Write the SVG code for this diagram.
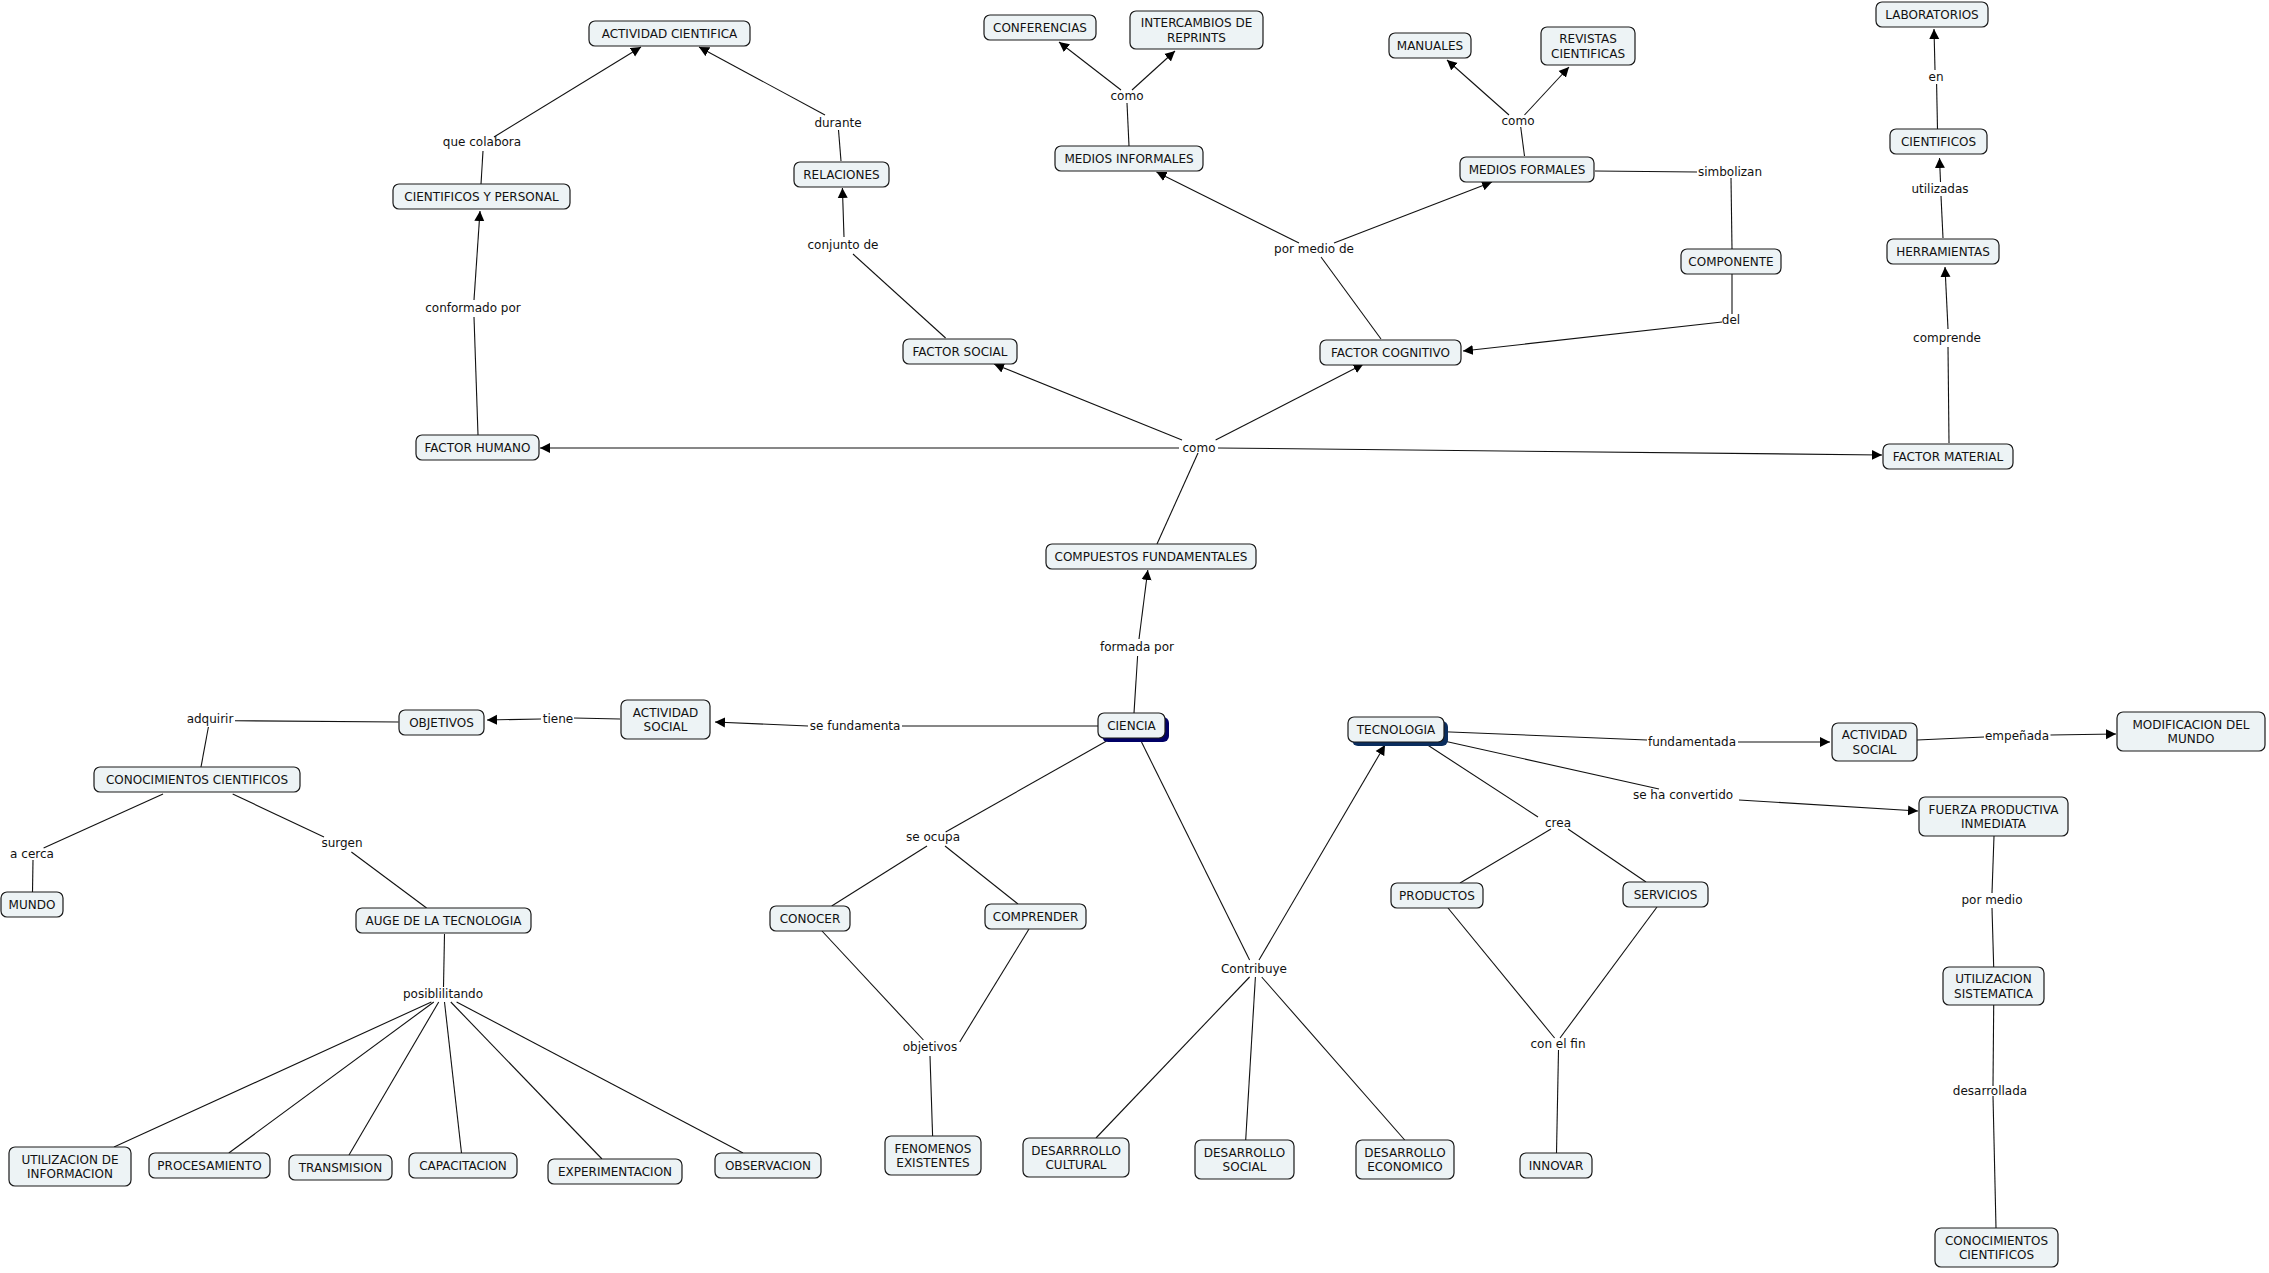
<svg xmlns="http://www.w3.org/2000/svg" width="2269" height="1273" viewBox="0 0 2269 1273">
<style>
.n rect.b{fill:#edf3f5;stroke:#1a1a1a;stroke-width:1.2}
.n text,.lb text{font-family:"DejaVu Sans","Liberation Sans",sans-serif;font-size:12px;fill:#111;text-anchor:middle}
#conn line{stroke:#111;stroke-width:1.1}
#conn line.ar{marker-end:url(#ah)}
</style>
<defs>
<marker id="ah" viewBox="0 0 10 10" refX="10" refY="5" markerWidth="10" markerHeight="11" markerUnits="userSpaceOnUse" orient="auto">
<path d="M0,0 L10,5 L0,10 z" fill="#000"/>
</marker>
</defs>
<rect width="2269" height="1273" fill="#fff"/>
<g id="conn">
<line class="ar" x1="494" y1="137" x2="641" y2="47"/>
<line x1="481" y1="184" x2="483" y2="151"/>
<line x1="478" y1="435" x2="474" y2="317"/>
<line class="ar" x1="474" y1="300" x2="480" y2="211"/>
<line class="ar" x1="825" y1="115" x2="699" y2="47"/>
<line x1="841" y1="161" x2="838.5" y2="130"/>
<line x1="945.6" y1="338" x2="853" y2="254"/>
<line class="ar" x1="844" y1="237" x2="842.4" y2="188"/>
<line x1="1129" y1="146" x2="1127" y2="103"/>
<line class="ar" x1="1121" y1="90" x2="1059" y2="42"/>
<line class="ar" x1="1132" y1="90" x2="1175" y2="51"/>
<line x1="1381" y1="339" x2="1321" y2="257"/>
<line class="ar" x1="1299" y1="243" x2="1156.5" y2="172"/>
<line class="ar" x1="1334" y1="243" x2="1492" y2="182"/>
<line x1="1524.5" y1="156" x2="1520.7" y2="127"/>
<line class="ar" x1="1509" y1="115" x2="1447" y2="60"/>
<line class="ar" x1="1524.5" y1="115" x2="1569" y2="67"/>
<line x1="1595" y1="171" x2="1697" y2="172"/>
<line x1="1731" y1="178" x2="1732" y2="249"/>
<line x1="1732" y1="274" x2="1732" y2="314"/>
<line class="ar" x1="1722" y1="322" x2="1463" y2="351"/>
<line x1="1157" y1="544" x2="1198" y2="453"/>
<line class="ar" x1="1179" y1="448" x2="540" y2="448"/>
<line class="ar" x1="1182" y1="440" x2="994" y2="364"/>
<line class="ar" x1="1215.6" y1="440" x2="1363.5" y2="364"/>
<line class="ar" x1="1218" y1="448" x2="1882" y2="455"/>
<line x1="1949" y1="443" x2="1948" y2="347"/>
<line class="ar" x1="1948" y1="329" x2="1945" y2="267"/>
<line x1="1943" y1="238" x2="1941" y2="196"/>
<line class="ar" x1="1940.5" y1="182" x2="1939.5" y2="158"/>
<line x1="1937.5" y1="129" x2="1936.6" y2="84"/>
<line class="ar" x1="1935" y1="70" x2="1934" y2="29"/>
<line x1="1134" y1="713" x2="1137.6" y2="656"/>
<line class="ar" x1="1139" y1="639" x2="1147.8" y2="570"/>
<line x1="1098" y1="726" x2="902" y2="726"/>
<line class="ar" x1="808" y1="726" x2="715" y2="722"/>
<line x1="620" y1="719" x2="574" y2="718"/>
<line class="ar" x1="541" y1="719" x2="487" y2="720"/>
<line x1="398.5" y1="722" x2="235" y2="720.7"/>
<line x1="208.4" y1="727" x2="201" y2="767"/>
<line x1="163" y1="794" x2="43.6" y2="848"/>
<line x1="33" y1="860" x2="32.5" y2="892"/>
<line x1="232.7" y1="794" x2="324" y2="837"/>
<line x1="351.4" y1="852" x2="426.6" y2="908"/>
<line x1="444.5" y1="934" x2="443.5" y2="987"/>
<line x1="431.4" y1="1002" x2="114" y2="1147"/>
<line x1="433.8" y1="1002" x2="228.8" y2="1153"/>
<line x1="438.7" y1="1002" x2="349" y2="1155"/>
<line x1="444.5" y1="1002" x2="461.5" y2="1153"/>
<line x1="450.8" y1="1002" x2="602" y2="1159"/>
<line x1="456.6" y1="1002" x2="743" y2="1153"/>
<line x1="1106.6" y1="741" x2="945.6" y2="832"/>
<line x1="927" y1="846" x2="831.7" y2="906"/>
<line x1="945" y1="846" x2="1018" y2="904"/>
<line x1="822" y1="931" x2="923.4" y2="1040"/>
<line x1="1029" y1="929" x2="959.7" y2="1042"/>
<line x1="930" y1="1056" x2="932.6" y2="1136"/>
<line x1="1141.5" y1="742" x2="1249.6" y2="960"/>
<line class="ar" x1="1259" y1="960" x2="1385" y2="745"/>
<line x1="1249.6" y1="977" x2="1096" y2="1138"/>
<line x1="1255.4" y1="977" x2="1245.7" y2="1140"/>
<line x1="1261.7" y1="977" x2="1404.7" y2="1140"/>
<line x1="1444" y1="731.7" x2="1647" y2="740"/>
<line class="ar" x1="1738" y1="742" x2="1830" y2="742"/>
<line x1="1444" y1="741" x2="1659" y2="789"/>
<line class="ar" x1="1739" y1="800" x2="1918" y2="811"/>
<line x1="1423" y1="742" x2="1538" y2="817"/>
<line x1="1551" y1="829" x2="1460" y2="883"/>
<line x1="1568" y1="829" x2="1646" y2="882"/>
<line x1="1448" y1="908" x2="1554.6" y2="1038"/>
<line x1="1657" y1="907" x2="1560" y2="1038"/>
<line x1="1558.5" y1="1050" x2="1556.5" y2="1153"/>
<line x1="1917" y1="740" x2="1984" y2="737"/>
<line class="ar" x1="2050.5" y1="735" x2="2116" y2="734"/>
<line x1="1994" y1="836" x2="1992" y2="893"/>
<line x1="1992" y1="908" x2="1993.7" y2="967"/>
<line x1="1993.7" y1="1005" x2="1993" y2="1086"/>
<line x1="1993" y1="1096" x2="1996" y2="1228"/>
</g>
<g id="labels" class="lb">
<text x="482" y="146">que colabora</text>
<text x="473" y="312">conformado por</text>
<text x="838" y="127">durante</text>
<text x="843" y="249">conjunto de</text>
<text x="1127" y="100">como</text>
<text x="1314" y="253">por medio de</text>
<text x="1518" y="125">como</text>
<text x="1730" y="176">simbolizan</text>
<text x="1731" y="324">del</text>
<text x="1199" y="452">como</text>
<text x="1936" y="81">en</text>
<text x="1940" y="193">utilizadas</text>
<text x="1947" y="342">comprende</text>
<text x="1137" y="651">formada por</text>
<text x="855" y="730">se fundamenta</text>
<text x="558" y="723">tiene</text>
<text x="210" y="723">adquirir</text>
<text x="32" y="858">a cerca</text>
<text x="342" y="847">surgen</text>
<text x="443" y="998">posiblilitando</text>
<text x="933" y="841">se ocupa</text>
<text x="930" y="1051">objetivos</text>
<text x="1254" y="973">Contribuye</text>
<text x="1692" y="746">fundamentada</text>
<text x="2017" y="740">empeñada</text>
<text x="1683" y="799">se ha convertido</text>
<text x="1558" y="827">crea</text>
<text x="1558" y="1048">con el fin</text>
<text x="1992" y="904">por medio</text>
<text x="1990" y="1095">desarrollada</text>
</g>
<g id="n-act-cientifica" class="n"><rect class="b" x="589" y="21" width="161" height="25" rx="6"/><text x="669.5" y="37.5">ACTIVIDAD CIENTIFICA</text></g>
<g id="n-cientificos-personal" class="n"><rect class="b" x="393" y="184" width="177" height="25" rx="6"/><text x="481.5" y="200.5">CIENTIFICOS Y PERSONAL</text></g>
<g id="n-factor-humano" class="n"><rect class="b" x="416" y="435" width="123" height="25" rx="6"/><text x="477.5" y="451.5">FACTOR HUMANO</text></g>
<g id="n-conferencias" class="n"><rect class="b" x="984" y="15" width="112" height="25" rx="6"/><text x="1040" y="31.5">CONFERENCIAS</text></g>
<g id="n-intercambios" class="n"><rect class="b" x="1130" y="11" width="133" height="38" rx="6"/><text x="1196.5" y="27">INTERCAMBIOS DE</text><text x="1196.5" y="41.5">REPRINTS</text></g>
<g id="n-manuales" class="n"><rect class="b" x="1389" y="33" width="82" height="25" rx="6"/><text x="1430" y="49.5">MANUALES</text></g>
<g id="n-revistas" class="n"><rect class="b" x="1541" y="27" width="94" height="38" rx="6"/><text x="1588" y="43">REVISTAS</text><text x="1588" y="57.5">CIENTIFICAS</text></g>
<g id="n-relaciones" class="n"><rect class="b" x="794" y="162" width="95" height="25" rx="6"/><text x="841.5" y="178.5">RELACIONES</text></g>
<g id="n-medios-informales" class="n"><rect class="b" x="1055" y="146" width="148" height="25" rx="6"/><text x="1129" y="162.5">MEDIOS INFORMALES</text></g>
<g id="n-medios-formales" class="n"><rect class="b" x="1460" y="157" width="134" height="25" rx="6"/><text x="1527" y="173.5">MEDIOS FORMALES</text></g>
<g id="n-componente" class="n"><rect class="b" x="1681" y="249" width="100" height="25" rx="6"/><text x="1731" y="265.5">COMPONENTE</text></g>
<g id="n-factor-social" class="n"><rect class="b" x="903" y="339" width="114" height="25" rx="6"/><text x="960" y="355.5">FACTOR SOCIAL</text></g>
<g id="n-factor-cognitivo" class="n"><rect class="b" x="1320" y="340" width="141" height="25" rx="6"/><text x="1390.5" y="356.5">FACTOR COGNITIVO</text></g>
<g id="n-laboratorios" class="n"><rect class="b" x="1876" y="2" width="112" height="25" rx="6"/><text x="1932" y="18.5">LABORATORIOS</text></g>
<g id="n-cientificos" class="n"><rect class="b" x="1890" y="129" width="97" height="25" rx="6"/><text x="1938.5" y="145.5">CIENTIFICOS</text></g>
<g id="n-herramientas" class="n"><rect class="b" x="1887" y="239" width="112" height="25" rx="6"/><text x="1943" y="255.5">HERRAMIENTAS</text></g>
<g id="n-factor-material" class="n"><rect class="b" x="1883" y="444" width="130" height="25" rx="6"/><text x="1948" y="460.5">FACTOR MATERIAL</text></g>
<g id="n-compuestos" class="n"><rect class="b" x="1046" y="544" width="210" height="25" rx="6"/><text x="1151" y="560.5">COMPUESTOS FUNDAMENTALES</text></g>
<g id="n-ciencia" class="n"><rect x="1102" y="717" width="67" height="25" rx="6" fill="#000066"/><rect class="b" x="1098" y="713" width="67" height="25" rx="6"/><text x="1131.5" y="729.5">CIENCIA</text></g>
<g id="n-tecnologia" class="n"><rect x="1352" y="721" width="96" height="25" rx="6" fill="#0a2d5e"/><rect class="b" x="1348" y="717" width="96" height="25" rx="6"/><text x="1396" y="733.5">TECNOLOGIA</text></g>
<g id="n-objetivos" class="n"><rect class="b" x="399" y="710" width="85" height="25" rx="6"/><text x="441.5" y="726.5">OBJETIVOS</text></g>
<g id="n-act-social-1" class="n"><rect class="b" x="621" y="700" width="89" height="39" rx="6"/><text x="665.5" y="716.5">ACTIVIDAD</text><text x="665.5" y="731">SOCIAL</text></g>
<g id="n-conocimientos-1" class="n"><rect class="b" x="94" y="767" width="206" height="25" rx="6"/><text x="197" y="783.5">CONOCIMIENTOS CIENTIFICOS</text></g>
<g id="n-mundo" class="n"><rect class="b" x="1" y="892" width="62" height="25" rx="6"/><text x="32" y="908.5">MUNDO</text></g>
<g id="n-auge" class="n"><rect class="b" x="356" y="908" width="175" height="25" rx="6"/><text x="443.5" y="924.5">AUGE DE LA TECNOLOGIA</text></g>
<g id="n-utilizacion-info" class="n"><rect class="b" x="9" y="1147" width="122" height="39" rx="6"/><text x="70" y="1163.5">UTILIZACION DE</text><text x="70" y="1178">INFORMACION</text></g>
<g id="n-procesamiento" class="n"><rect class="b" x="149" y="1153" width="121" height="25" rx="6"/><text x="209.5" y="1169.5">PROCESAMIENTO</text></g>
<g id="n-transmision" class="n"><rect class="b" x="289" y="1155" width="103" height="25" rx="6"/><text x="340.5" y="1171.5">TRANSMISION</text></g>
<g id="n-capacitacion" class="n"><rect class="b" x="409" y="1153" width="108" height="25" rx="6"/><text x="463" y="1169.5">CAPACITACION</text></g>
<g id="n-experimentacion" class="n"><rect class="b" x="548" y="1159" width="134" height="25" rx="6"/><text x="615" y="1175.5">EXPERIMENTACION</text></g>
<g id="n-observacion" class="n"><rect class="b" x="715" y="1153" width="106" height="25" rx="6"/><text x="768" y="1169.5">OBSERVACION</text></g>
<g id="n-conocer" class="n"><rect class="b" x="770" y="906" width="80" height="25" rx="6"/><text x="810" y="922.5">CONOCER</text></g>
<g id="n-comprender" class="n"><rect class="b" x="985" y="904" width="101" height="25" rx="6"/><text x="1035.5" y="920.5">COMPRENDER</text></g>
<g id="n-fenomenos" class="n"><rect class="b" x="885" y="1136" width="96" height="39" rx="6"/><text x="933" y="1152.5">FENOMENOS</text><text x="933" y="1167">EXISTENTES</text></g>
<g id="n-des-cultural" class="n"><rect class="b" x="1023" y="1138" width="106" height="39" rx="6"/><text x="1076" y="1154.5">DESARRROLLO</text><text x="1076" y="1169">CULTURAL</text></g>
<g id="n-des-social" class="n"><rect class="b" x="1195" y="1140" width="99" height="39" rx="6"/><text x="1244.5" y="1156.5">DESARROLLO</text><text x="1244.5" y="1171">SOCIAL</text></g>
<g id="n-des-economico" class="n"><rect class="b" x="1356" y="1140" width="98" height="39" rx="6"/><text x="1405" y="1156.5">DESARROLLO</text><text x="1405" y="1171">ECONOMICO</text></g>
<g id="n-productos" class="n"><rect class="b" x="1391" y="883" width="92" height="25" rx="6"/><text x="1437" y="899.5">PRODUCTOS</text></g>
<g id="n-servicios" class="n"><rect class="b" x="1623" y="882" width="85" height="25" rx="6"/><text x="1665.5" y="898.5">SERVICIOS</text></g>
<g id="n-innovar" class="n"><rect class="b" x="1520" y="1153" width="72" height="25" rx="6"/><text x="1556" y="1169.5">INNOVAR</text></g>
<g id="n-act-social-2" class="n"><rect class="b" x="1832" y="723" width="85" height="38" rx="6"/><text x="1874.5" y="739">ACTIVIDAD</text><text x="1874.5" y="753.5">SOCIAL</text></g>
<g id="n-modificacion" class="n"><rect class="b" x="2117" y="712" width="148" height="39" rx="6"/><text x="2191" y="728.5">MODIFICACION DEL</text><text x="2191" y="743">MUNDO</text></g>
<g id="n-fuerza" class="n"><rect class="b" x="1919" y="797" width="149" height="39" rx="6"/><text x="1993.5" y="813.5">FUERZA PRODUCTIVA</text><text x="1993.5" y="828">INMEDIATA</text></g>
<g id="n-utilizacion-sis" class="n"><rect class="b" x="1943" y="967" width="101" height="38" rx="6"/><text x="1993.5" y="983">UTILIZACION</text><text x="1993.5" y="997.5">SISTEMATICA</text></g>
<g id="n-conocimientos-2" class="n"><rect class="b" x="1935" y="1228" width="123" height="39" rx="6"/><text x="1996.5" y="1244.5">CONOCIMIENTOS</text><text x="1996.5" y="1259">CIENTIFICOS</text></g>
</svg>
